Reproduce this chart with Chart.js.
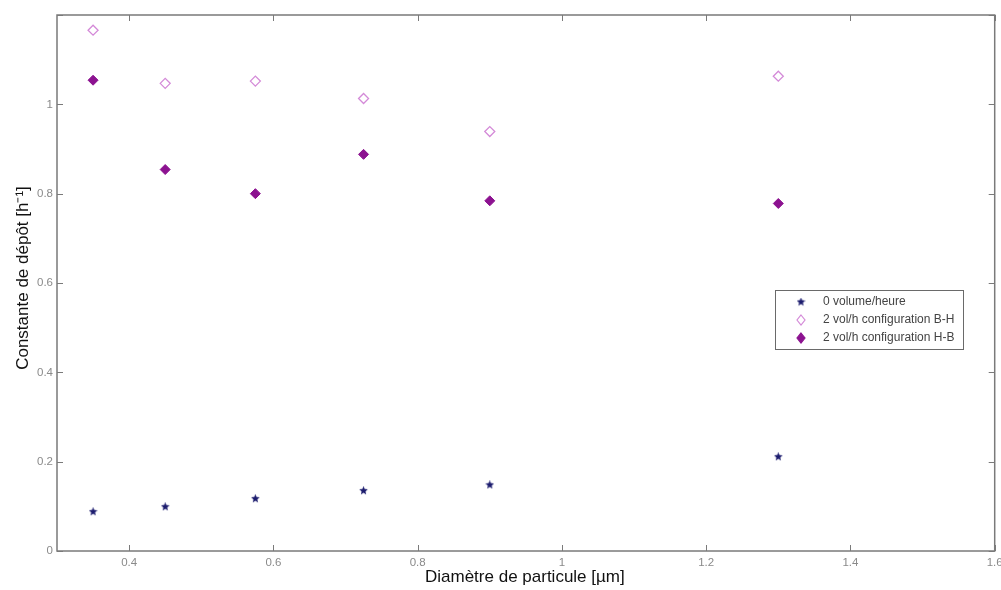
<!DOCTYPE html>
<html>
<head>
<meta charset="utf-8">
<script src="https://cdn.jsdelivr.net/npm/chart.js@4/dist/chart.umd.min.js"></script>
<style>
  html, body { margin: 0; padding: 0; background: #fff; overflow: hidden; }
  #wrap { width: 1001px; height: 590px; position: relative; }
</style>
</head>
<body>
<div id="wrap"><canvas id="depotChart"></canvas></div>
<script>
// data
const diametres = [0.35, 0.45, 0.575, 0.725, 0.9, 1.3];
const zeroVol = [0.088, 0.099, 0.117, 0.135, 0.148, 0.211];
const configBH = [1.166, 1.047, 1.052, 1.013, 0.939, 1.063];
const configHB = [1.054, 0.854, 0.800, 0.888, 0.784, 0.778];
const seriesNames = ['0 volume/heure', '2 vol/h configuration B-H', '2 vol/h configuration H-B'];
const xTicks = [0.4, 0.6, 0.8, 1.0, 1.2, 1.4, 1.6];
const yTicks = [0, 0.2, 0.4, 0.6, 0.8, 1.0, 1.2];

const axisColor = '#7a7a7a';
const labelColor = '#8a8a8a';
const fontFam = '"Liberation Sans", Arial, sans-serif';

// small filled star as marker
function makeStar(size, color) {
    const c = document.createElement('canvas');
    c.width = size; c.height = size;
    const g = c.getContext('2d');
    const cx = size / 2, cy = size / 2, R = size / 2, r = R * 0.45;
    g.beginPath();
    for (let i = 0; i < 10; i++) {
        const a = -Math.PI / 2 + i * Math.PI / 5;
        const rr = i % 2 === 0 ? R : r;
        g.lineTo(cx + rr * Math.cos(a), cy + rr * Math.sin(a));
    }
    g.closePath();
    g.fillStyle = color;
    g.fill();
    return c;
}
const starImg = makeStar(9, '#1c1c6e');

function pts(ys) {
    return diametres.map((x, i) => ({ x: x, y: ys[i] }));
}

// box, inward ticks, titles and legend (matlab style)
const matlabFrame = {
    id: 'matlabFrame',
    afterDraw(chart) {
        const ctx = chart.ctx;
        const a = chart.chartArea;
        const xs = chart.scales.x, ys = chart.scales.y;
        ctx.save();
        ctx.strokeStyle = axisColor;
        ctx.lineWidth = 1.5;
        ctx.strokeRect(a.left, a.top, a.right - a.left, a.bottom - a.top);
        ctx.lineWidth = 1;
        ctx.beginPath();
        xTicks.forEach(v => {
            const px = Math.round(xs.getPixelForValue(v)) + 0.5;
            ctx.moveTo(px, a.bottom); ctx.lineTo(px, a.bottom - 6);
            ctx.moveTo(px, a.top); ctx.lineTo(px, a.top + 6);
        });
        yTicks.forEach(v => {
            const py = Math.round(ys.getPixelForValue(v)) + 0.5;
            ctx.moveTo(a.left, py); ctx.lineTo(a.left + 6, py);
            ctx.moveTo(a.right, py); ctx.lineTo(a.right - 6, py);
        });
        ctx.stroke();

        // axis titles
        ctx.fillStyle = '#111';
        ctx.font = '17px ' + fontFam;
        ctx.textAlign = 'center';
        ctx.textBaseline = 'middle';
        ctx.fillText('Diamètre de particule [µm]', (a.left + a.right) / 2 - 1, 577);
        ctx.save();
        ctx.translate(23, 278);
        ctx.rotate(-Math.PI / 2);
        ctx.fillText('Constante de dépôt [h⁻¹]', 0, 0);
        ctx.restore();

        // legend
        const lx = 775, ly = 290, lw = 188, lh = 59;
        ctx.fillStyle = '#fff';
        ctx.fillRect(lx, ly, lw, lh);
        ctx.strokeStyle = '#6a6a6a';
        ctx.strokeRect(lx + 0.5, ly + 0.5, lw, lh);
        ctx.font = '12px ' + fontFam;
        ctx.textAlign = 'left';
        chart.data.datasets.forEach((ds, i) => {
            const y = ly + 12 + i * 18;
            const mx = lx + 26;
            if (i === 0) {
                ctx.drawImage(starImg, mx - 4.5, y - 4.5);
            } else {
                ctx.beginPath();
                ctx.moveTo(mx, y - 5); ctx.lineTo(mx + 4, y); ctx.lineTo(mx, y + 5); ctx.lineTo(mx - 4, y);
                ctx.closePath();
                if (i === 2) { ctx.fillStyle = ds.backgroundColor; ctx.fill(); }
                ctx.strokeStyle = ds.borderColor;
                ctx.lineWidth = 1.2;
                ctx.stroke();
            }
            ctx.fillStyle = '#444';
            ctx.fillText(seriesNames[i], lx + 48, y);
        });
        ctx.restore();
    }
};

new Chart(document.getElementById('depotChart'), {
    type: 'scatter',
    data: {
        datasets: [
            {
                label: seriesNames[0],
                data: pts(zeroVol),
                pointStyle: starImg,
                borderColor: '#1c1c6e',
                backgroundColor: '#1c1c6e'
            },
            {
                label: seriesNames[1],
                data: pts(configBH),
                pointStyle: 'rectRot',
                pointRadius: 5,
                borderWidth: 1.3,
                borderColor: '#d48ad8',
                backgroundColor: 'rgba(255,255,255,0)'
            },
            {
                label: seriesNames[2],
                data: pts(configHB),
                pointStyle: 'rectRot',
                pointRadius: 5,
                borderWidth: 1,
                borderColor: '#8c1290',
                backgroundColor: '#8c1290'
            }
        ]
    },
    options: {
        responsive: true,
        maintainAspectRatio: false,
        animation: false,
        layout: { padding: { top: 15, right: 5, left: 0, bottom: 0 } },
        plugins: {
            legend: { display: false },
            tooltip: { enabled: false }
        },
        scales: {
            x: {
                type: 'linear',
                min: 0.3,
                max: 1.6,
                afterBuildTicks: s => { s.ticks = xTicks.map(v => ({ value: v })); },
                afterFit: s => { s.height = 39; s.paddingRight = 0; s.paddingLeft = 0; },
                grid: { display: false, drawTicks: false },
                border: { display: false },
                ticks: {
                    color: labelColor,
                    padding: 5,
                    maxRotation: 0,
                    font: { size: 11.5, family: fontFam },
                    callback: v => String(Math.round(v * 10) / 10)
                }
            },
            y: {
                min: 0,
                max: 1.2,
                afterBuildTicks: s => { s.ticks = yTicks.slice(0, 6).map(v => ({ value: v })); },
                afterFit: s => { s.width = 57; s.paddingTop = 0; s.paddingBottom = 0; },
                grid: { display: false, drawTicks: false },
                border: { display: false },
                ticks: {
                    color: labelColor,
                    padding: 4,
                    font: { size: 11.5, family: fontFam },
                    callback: v => String(Math.round(v * 10) / 10)
                }
            }
        }
    },
    plugins: [matlabFrame]
});
</script>
</body>
</html>
